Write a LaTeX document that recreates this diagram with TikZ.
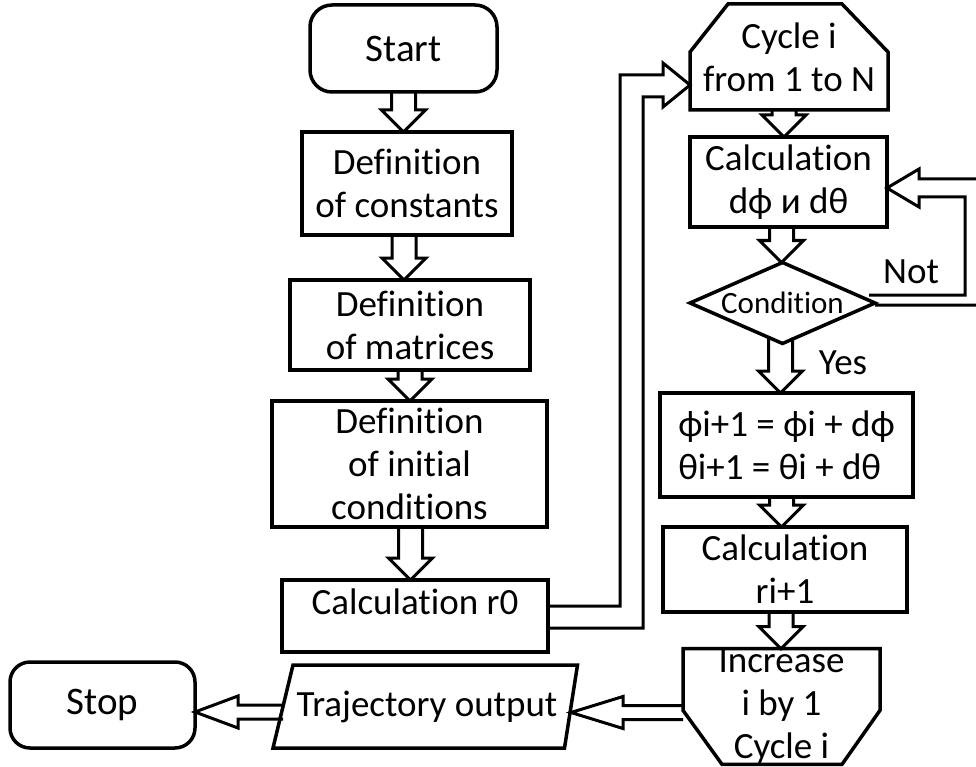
\documentclass[tikz,border=0pt]{standalone}
\usepackage{fontspec}
\setmainfont{Carlito}[Ligatures=NoCommon]
\usetikzlibrary{calc}

\tikzset{
  outline/.style={line width=3.5pt, line join=miter},
  box/.style={draw, outline, inner sep=0pt, outer sep=0pt, align=center},
  term/.style={box, rounded corners=22pt, font=\fontsize{39}{44}\selectfont},
  plain/.style={inner sep=0pt, outer sep=0pt, align=center},
  flow/.style={draw, line width=3pt, line join=miter},
  lbl/.style={inner sep=0pt},
}

% hollow arrow going down, from #1 to #2
\newcommand{\hdown}[2]{%
  \draw[flow] let \p1=(#1), \p2=(#2) in
    (\x1-12pt,\y1) -- (\x1-12pt,\y2+22pt) -- (\x1-22pt,\y2+22pt) -- (\x1,\y2)
    -- (\x1+22pt,\y2+22pt) -- (\x1+12pt,\y2+22pt) -- (\x1+12pt,\y1);}

% hollow arrow going left, from #1 to #2, head length #3
\newcommand{\hleft}[3]{%
  \draw[flow] let \p1=(#1), \p2=(#2) in
    (\x1,\y2+7pt) -- (\x2+#3,\y2+7pt) -- (\x2+#3,\y2+16pt) -- (\x2,\y2)
    -- (\x2+#3,\y2-16pt) -- (\x2+#3,\y2-7pt) -- (\x1,\y2-7pt);}

\begin{document}
\begin{tikzpicture}[x=1pt, y=-1pt, font=\fontsize{37}{43}\selectfont]
    \useasboundingbox (0,0) rectangle (976,767);

    % Left column
    \node[term, minimum width=187pt, minimum height=87pt] (start) at (403.5,48.5) {Start};
    \node[box, minimum width=210pt, minimum height=103pt] (defc) at (407,183.5) {Definition\\of constants};
    \node[box, minimum width=240pt, minimum height=90pt] (defm) at (410,325) {Definition\\of matrices};
    \node[box, minimum width=275pt, minimum height=126pt] (defi) at (409.5,464) {Definition\\of initial\\conditions};
    \node[box, minimum width=266pt, minimum height=72pt, text depth=28pt] (r0) at (415,616) {Calculation r0};

    % Loop head
    \node[plain, minimum width=198pt, minimum height=106pt] (cyc) at (789,57) {Cycle i\\from 1 to N};
    \draw[outline] (cyc.south west) -- ([yshift=-48pt]cyc.north west) -- ([xshift=38pt]cyc.north west)
        -- ([xshift=-46pt]cyc.north east) -- ([yshift=-48pt]cyc.north east) -- (cyc.south east) -- cycle;

    % Right column
    \node[box, minimum width=197pt, minimum height=90pt] (calcd) at (788.5,182) {Calculation\\dϕ и dθ};
    \node[plain, minimum width=185pt, minimum height=81pt, font=\fontsize{31}{36}\selectfont] (cond) at (782.5,303) {Condition};
    \draw[outline] (cond.north) -- (cond.east) -- (cond.south) -- (cond.west) -- cycle;
    \node[box, minimum width=253pt, minimum height=104pt, align=left] (phi) at (786.5,445) {ϕi+1 = ϕi + dϕ\\θi+1 = θi + dθ};
    \node[box, minimum width=244pt, minimum height=85pt] (calcr) at (785,569.5) {Calculation\\ri+1};

    % Loop end
    \node[plain, minimum width=197pt, minimum height=109pt] (incr) at (781.5,706.5) {Increase\\i by 1\\Cycle i};
    \draw[outline] (incr.north west) -- ([yshift=54pt]incr.south west) -- ([xshift=39pt]incr.south west)
        -- ([xshift=-38pt]incr.south east) -- ([yshift=54pt]incr.south east) -- (incr.north east) -- cycle;

    % Output and end
    \node[plain, minimum width=288pt, minimum height=83pt] (traj) at (427,706.5) {Trajectory output};
    \draw[outline] ([xshift=10pt]traj.north west) -- ([xshift=6.5pt]traj.north east)
        -- ([xshift=-6.5pt]traj.south east) -- ([xshift=-10pt]traj.south west) -- cycle;
    \node[term, minimum width=185pt, minimum height=86pt, rounded corners=20pt] (stop) at (102.5,705) {Stop};

    % Arrows
    \hdown{start.south}{defc.north}
    \hdown{[xshift=-3pt]defc.south}{defm.north}
    \hdown{defm.south}{defi.north}
    \hdown{[xshift=1pt]defi.south}{r0.north}
    \hdown{[xshift=-5pt]cyc.south}{calcd.north}
    \hdown{[xshift=-7pt]calcd.south}{cond.north}
    \hdown{[xshift=-2pt, yshift=6pt]cond.south}{phi.north}
    \hdown{[xshift=-5pt]phi.south}{calcr.north}
    \hdown{[xshift=-4pt]calcr.south}{incr.north}
    \hleft{[yshift=-8pt]incr.west}{[yshift=-6pt]traj.east}{52pt}
    \hleft{[yshift=-7pt]traj.west}{[yshift=-7pt]stop.east}{43pt}

    % r0 into the loop
    \draw[flow] let \p1=(r0.east), \p2=([yshift=-28pt]cyc.west) in
        (\x1,\y1+10pt) -- (\x1+72pt,\y1+10pt) -- (\x1+72pt,\y2+10pt) -- (\x2-27pt,\y2+10pt)
        -- (\x2-27pt,\y2+22pt) -- (\x2,\y2) -- (\x2-27pt,\y2-22pt) -- (\x2-27pt,\y2-12pt)
        -- (\x1+95pt,\y2-12pt) -- (\x1+95pt,\y1-12pt) -- (\x1,\y1-12pt);

    % Condition not met
    \draw[flow] let \p1=(cond.east), \p2=([yshift=-6pt]calcd.east) in
        (\x1-6pt,\y1+8pt) -- (\x1+90pt,\y1+8pt) -- (\x1+90pt,\y2-9pt) -- (\x2+32pt,\y2-9pt)
        -- (\x2+32pt,\y2-19pt) -- (\x2,\y2) -- (\x2+32pt,\y2+19pt) -- (\x2+32pt,\y2+9pt)
        -- (\x1+110pt,\y2+9pt) -- (\x1+110pt,\y1-2pt) -- (\x1,\y1-2pt);
    \node[lbl] (not) at (911,272) {Not};
    \node[lbl] (yes) at (843,363) {Yes};

\end{tikzpicture}
\end{document}
